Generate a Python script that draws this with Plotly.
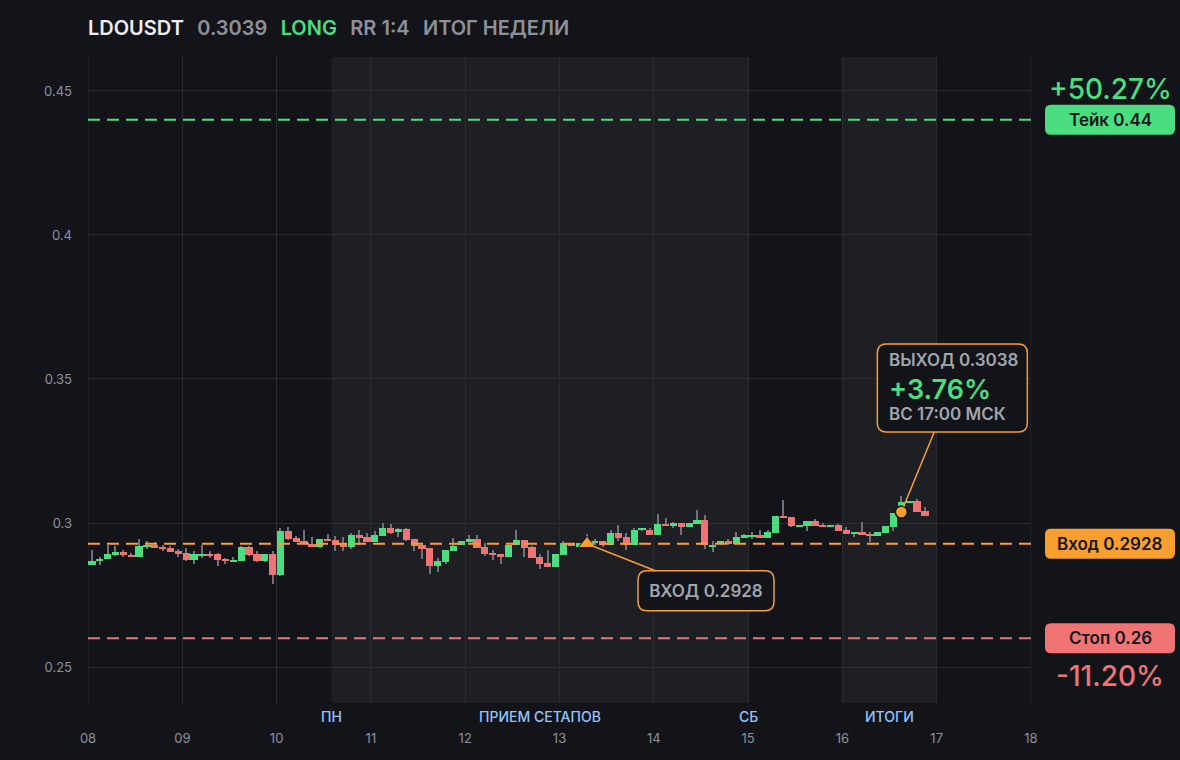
import pandas as pd
import plotly.graph_objects as go

# 2h candles, LDOUSDT
times = pd.date_range("2025-11-08 01:00", periods=107, freq="2h")
opens = [0.2855, 0.2867, 0.2874, 0.2890, 0.2900, 0.2890, 0.2883, 0.2919, 0.2925, 0.2918, 0.2914, 0.2904,
         0.2897, 0.2873, 0.2887, 0.2894, 0.2894, 0.2876, 0.2866, 0.2869, 0.2918, 0.2894, 0.2869, 0.2894,
         0.2821, 0.2973, 0.2949, 0.2939, 0.2928, 0.2918, 0.2946, 0.2942, 0.2928, 0.2918, 0.2960, 0.2953,
         0.2935, 0.2956, 0.2984, 0.2970, 0.2980, 0.2946, 0.2925, 0.2914, 0.2852, 0.2866, 0.2904, 0.2925,
         0.2935, 0.2946, 0.2918, 0.2897, 0.2894, 0.2883, 0.2925, 0.2942, 0.2918, 0.2883, 0.2862, 0.2848,
         0.2890, 0.2932, 0.2918, 0.2925, 0.2932, 0.2939, 0.2925, 0.2966, 0.2953, 0.2925, 0.2977, 0.2977,
         0.2960, 0.2998, 0.2991, 0.3001, 0.2987, 0.2998, 0.3012, 0.2918, 0.2928, 0.2939, 0.2928, 0.2949,
         0.2953, 0.2959, 0.2949, 0.2966, 0.3025, 0.3022, 0.2987, 0.2991, 0.3008, 0.2994, 0.2987, 0.2994,
         0.2977, 0.2963, 0.2970, 0.2963, 0.2956, 0.2966, 0.2987, 0.3053, 0.3071, 0.3078, 0.3043]
highs = [0.2907, 0.2881, 0.2925, 0.2919, 0.2907, 0.2897, 0.2946, 0.2939, 0.2935, 0.2925, 0.2921, 0.2911,
         0.2914, 0.2904, 0.2925, 0.2904, 0.2897, 0.2880, 0.2883, 0.2921, 0.2921, 0.2904, 0.2894, 0.2904,
         0.2983, 0.2987, 0.2956, 0.2977, 0.2953, 0.2946, 0.2963, 0.2956, 0.2953, 0.2966, 0.2977, 0.2966,
         0.2973, 0.3001, 0.2998, 0.2984, 0.2984, 0.2946, 0.2932, 0.2914, 0.2880, 0.2907, 0.2949, 0.2939,
         0.2960, 0.2960, 0.2932, 0.2907, 0.2894, 0.2925, 0.2977, 0.2942, 0.2921, 0.2894, 0.2907, 0.2894,
         0.2939, 0.2932, 0.2932, 0.2963, 0.2946, 0.2939, 0.2977, 0.2994, 0.2966, 0.2984, 0.2984, 0.2984,
         0.3032, 0.3019, 0.3005, 0.3001, 0.3001, 0.3046, 0.3029, 0.2939, 0.2939, 0.2946, 0.2970, 0.2963,
         0.2970, 0.2977, 0.2977, 0.3025, 0.3081, 0.3022, 0.2994, 0.3008, 0.3015, 0.3001, 0.2994, 0.2998,
         0.2987, 0.2970, 0.3005, 0.2970, 0.2970, 0.2991, 0.3036, 0.3095, 0.3078, 0.3084, 0.3057]
lows = [0.2855, 0.2855, 0.2874, 0.2884, 0.2881, 0.2881, 0.2883, 0.2909, 0.2914, 0.2902, 0.2900, 0.2883,
        0.2869, 0.2859, 0.2880, 0.2880, 0.2852, 0.2859, 0.2866, 0.2869, 0.2887, 0.2866, 0.2866, 0.2789,
        0.2815, 0.2942, 0.2935, 0.2928, 0.2918, 0.2914, 0.2939, 0.2902, 0.2904, 0.2911, 0.2925, 0.2935,
        0.2935, 0.2956, 0.2963, 0.2953, 0.2939, 0.2904, 0.2876, 0.2824, 0.2831, 0.2859, 0.2904, 0.2925,
        0.2935, 0.2914, 0.2887, 0.2873, 0.2859, 0.2883, 0.2925, 0.2883, 0.2880, 0.2841, 0.2848, 0.2848,
        0.2890, 0.2921, 0.2918, 0.2925, 0.2925, 0.2918, 0.2925, 0.2939, 0.2907, 0.2925, 0.2973, 0.2960,
        0.2960, 0.2991, 0.2984, 0.2959, 0.2987, 0.2998, 0.2911, 0.2900, 0.2925, 0.2925, 0.2928, 0.2949,
        0.2946, 0.2949, 0.2949, 0.2966, 0.3019, 0.2987, 0.2987, 0.2973, 0.2991, 0.2987, 0.2987, 0.2973,
        0.2963, 0.2953, 0.2959, 0.2935, 0.2956, 0.2966, 0.2973, 0.3053, 0.3071, 0.3039, 0.3025]
closes = [0.2869, 0.2876, 0.2894, 0.2900, 0.2888, 0.2883, 0.2921, 0.2925, 0.2914, 0.2911, 0.2900, 0.2894,
          0.2873, 0.2894, 0.2894, 0.2887, 0.2873, 0.2869, 0.2873, 0.2918, 0.2890, 0.2869, 0.2894, 0.2821,
          0.2973, 0.2946, 0.2935, 0.2928, 0.2918, 0.2946, 0.2939, 0.2925, 0.2918, 0.2960, 0.2949, 0.2935,
          0.2960, 0.2984, 0.2966, 0.2980, 0.2942, 0.2921, 0.2911, 0.2852, 0.2869, 0.2907, 0.2921, 0.2939,
          0.2946, 0.2914, 0.2894, 0.2890, 0.2883, 0.2925, 0.2942, 0.2914, 0.2880, 0.2859, 0.2848, 0.2894,
          0.2932, 0.2921, 0.2932, 0.2935, 0.2939, 0.2925, 0.2966, 0.2949, 0.2925, 0.2977, 0.2980, 0.2960,
          0.2998, 0.2991, 0.3001, 0.2987, 0.3001, 0.3012, 0.2925, 0.2925, 0.2939, 0.2928, 0.2953, 0.2959,
          0.2959, 0.2949, 0.2970, 0.3025, 0.3019, 0.2991, 0.2994, 0.3008, 0.2991, 0.2987, 0.2994, 0.2973,
          0.2963, 0.2970, 0.2959, 0.2956, 0.2970, 0.2991, 0.3036, 0.3074, 0.3078, 0.3039, 0.3025]

symbol = "LDOUSDT"
last_price = "0.3039"
take, entry, stop = 0.44, 0.2928, 0.26
take_pct, stop_pct = "+50.27%", "-11.20%"
entry_time = "2025-11-13 07:00"
exit_time, exit_price = "2025-11-16 15:00", 0.3038
exit_pct = "+3.76%"
exit_note = "ВС 17:00 МСК"
sessions = [("2025-11-10 14:00", "2025-11-15 00:00"), ("2025-11-16 00:00", "2025-11-17 00:00")]
session_labels = [("2025-11-10 14:00", "ПН"), ("2025-11-12 19:00", "ПРИЕМ СЕТАПОВ"),
                  ("2025-11-15 00:00", "СБ"), ("2025-11-16 12:00", "ИТОГИ")]

BG = "#131419"
SHADE = "#1e1f24"
GRID = "#2a2c32"
GREEN = "#4ade80"
RED = "#f07473"
ORANGE = "#fa9f2e"
WICK = "#6e727b"
TICK = "#8d9199"
GREY = "#a1a5ad"
FONT = "Inter"

X0, X1 = pd.Timestamp("2025-11-08"), pd.Timestamp("2025-11-18")
Y0, Y1 = 0.2375, 0.4618
PL, PR, PT, PB = 88, 1031, 57, 703


def xpx(t):
    return PL + (pd.Timestamp(t) - X0) / (X1 - X0) * (PR - PL)


def ypx(v):
    return PB - (v - Y0) / (Y1 - Y0) * (PB - PT)


def px2paper(x, y):
    return (x - PL) / (PR - PL), (PB - y) / (PB - PT)


def round_box(x0, y0, x1, y1, r, fill, line=None, lw=0):
    pts = [("M", x0 + r, y0), ("L", x1 - r, y0), ("Q", x1, y0, x1, y0 + r), ("L", x1, y1 - r),
           ("Q", x1, y1, x1 - r, y1), ("L", x0 + r, y1), ("Q", x0, y1, x0, y1 - r),
           ("L", x0, y0 + r), ("Q", x0, y0, x0 + r, y0)]
    path = ""
    for p in pts:
        coords = []
        for i in range(1, len(p), 2):
            a, b = px2paper(p[i], p[i + 1])
            coords.append(f"{a:.5f},{b:.5f}")
        path += p[0] + " ".join(coords) + " "
    return dict(type="path", path=path + "Z", xref="paper", yref="paper", fillcolor=fill,
                line=dict(color=line or fill, width=lw), layer="above")


colors = [GREEN if c >= o else RED for o, c in zip(opens, closes)]
two_h = 2 * 3600 * 1000

fig = go.Figure()
fig.add_trace(go.Bar(x=times, base=lows, y=[h - l for h, l in zip(highs, lows)],
                     width=1.0e6, marker=dict(color=WICK, line_width=0), hoverinfo="skip"))
fig.add_trace(go.Bar(x=times, base=[min(o, c) for o, c in zip(opens, closes)],
                     y=[abs(c - o) for o, c in zip(opens, closes)], width=two_h * 0.92,
                     marker=dict(color=colors, line_width=0), hoverinfo="skip"))
fig.add_trace(go.Scatter(x=[entry_time], y=[entry], mode="markers",
                         marker=dict(symbol="triangle-up", size=15, color=ORANGE, line=dict(color=BG, width=1))))
fig.add_trace(go.Scatter(x=[exit_time], y=[exit_price], mode="markers",
                         marker=dict(symbol="circle", size=12, color=ORANGE, line=dict(color=BG, width=1.5))))

for a, b in sessions:
    fig.add_shape(type="rect", x0=a, x1=b, y0=0, y1=1, xref="x", yref="paper",
                  fillcolor=SHADE, line_width=0, layer="below")
# edge grid lines (08 and 18)
for t in [X0, X1]:
    fig.add_shape(type="line", x0=t, x1=t, y0=0, y1=1, xref="x", yref="paper",
                  line=dict(color=GRID, width=1), layer="below")

for lvl, col in [(take, GREEN), (entry, ORANGE), (stop, RED)]:
    fig.add_hline(y=lvl, line=dict(color=col, width=2, dash="12px,7px"))

# title
sp = "\u00a0\u00a0\u2009"
title = (f"<span style='color:#eceef1'>{symbol}</span>{sp}"
         f"<span style='color:{TICK}'>{last_price}</span>{sp}"
         f"<span style='color:{GREEN}'>LONG</span>{sp}"
         f"<span style='color:{TICK}'>RR 1:4</span>{sp}"
         f"<span style='color:{TICK}'>ИТОГ НЕДЕЛИ</span>")
fig.add_annotation(text=title, xref="paper", yref="paper", x=px2paper(86, 0)[0], y=px2paper(0, 28)[1],
                   xanchor="left", yanchor="middle", showarrow=False,
                   font=dict(family=FONT, size=20, weight=600))

# right side level tags
cx = px2paper(1110, 0)[0]
for lvl, col, txt in [(take, GREEN, f"Тейк {take}"), (entry, ORANGE, f"Вход {entry}"), (stop, RED, f"Стоп {stop}")]:
    yc = ypx(lvl)
    fig.add_shape(round_box(1045, yc - 15, 1175, yc + 15, 6, col))
    fig.add_annotation(text=txt, xref="paper", yref="y", x=cx, y=lvl, xanchor="center", yanchor="middle",
                       showarrow=False, font=dict(family=FONT, size=17, weight=600, color="#15161b"))
fig.add_annotation(text=take_pct, xref="paper", yref="paper", x=cx, y=px2paper(0, ypx(take) - 31)[1],
                   xanchor="center", yanchor="middle", showarrow=False,
                   font=dict(family=FONT, size=28, weight=500, color=GREEN))
fig.add_annotation(text=stop_pct, xref="paper", yref="paper", x=cx, y=px2paper(0, ypx(stop) + 38)[1],
                   xanchor="center", yanchor="middle", showarrow=False,
                   font=dict(family=FONT, size=28, weight=500, color=RED))

# entry callout
ex, ey = xpx(entry_time), ypx(entry)
bx, by, bw, bh = ex + 119, ey + 47, 136, 40
fig.add_shape(round_box(bx - bw / 2, by - bh / 2, bx + bw / 2, by + bh / 2, 9, BG, ORANGE, 1.5))
fig.add_annotation(x=entry_time, y=entry, ax=119, ay=47, text=f"ВХОД {entry}", showarrow=True,
                   arrowhead=0, arrowwidth=1.5, arrowcolor=ORANGE, standoff=6, width=bw, height=bh,
                   borderpad=0, borderwidth=0, align="center", valign="middle",
                   font=dict(family=FONT, size=17, weight=600, color=GREY))

# exit callout
qx, qy = xpx(exit_time), ypx(exit_price)
bx, by, bw, bh = qx + 51, qy - 124, 150, 88
fig.add_shape(round_box(bx - bw / 2, by - bh / 2, bx + bw / 2, by + bh / 2, 9, BG, ORANGE, 1.5))
fig.add_annotation(x=exit_time, y=exit_price, ax=51, ay=-124, text=" ", showarrow=True,
                   arrowhead=0, arrowwidth=1.5, arrowcolor=ORANGE, standoff=6, width=bw, height=bh,
                   borderpad=0, borderwidth=0)
left = px2paper(bx - bw / 2 + 10, 0)[0]
top = by - bh / 2
for dy, txt, size, col, w in [(16, f"ВЫХОД {exit_price}", 17, GREY, 600), (45, exit_pct, 27, GREEN, 600),
                              (70, exit_note, 17, GREY, 600)]:
    fig.add_annotation(text=txt, xref="paper", yref="paper", x=left, y=px2paper(0, top + dy)[1],
                       xanchor="left", yanchor="middle", showarrow=False,
                       font=dict(family=FONT, size=size, weight=w, color=col))

# session labels
for t, txt in session_labels:
    fig.add_annotation(text=txt, x=t, xref="x", yref="paper", y=px2paper(0, 716)[1],
                       xanchor="center", yanchor="middle", showarrow=False,
                       font=dict(family=FONT, size=14, weight=500, color="#93c5fd"))

fig.update_layout(
    width=1180, height=760, showlegend=False, barmode="overlay", bargap=0,
    paper_bgcolor=BG, plot_bgcolor=BG,
    margin=dict(l=PL, r=1180 - PR, t=PT, b=760 - PB, pad=0),
    font=dict(family=FONT, color=TICK, size=13),
    xaxis=dict(type="date", range=[X0, X1], dtick=86400000, tick0="2025-11-08", tickformat="%d",
               showgrid=True, gridcolor=GRID, gridwidth=1, zeroline=False, showline=False,
               ticklabelstandoff=26, tickfont=dict(size=13, color=TICK)),
    yaxis=dict(range=[Y0, Y1], dtick=0.05, tick0=0.25, showgrid=True, gridcolor=GRID, gridwidth=1,
               zeroline=False, showline=False, ticklabelstandoff=15, tickfont=dict(size=13, color=TICK)),
    hovermode=False,
)

fig.write_html("out.html", config={"displayModeBar": False},
               post_script="document.body.style.margin='0';document.body.style.background='%s';" % BG)
